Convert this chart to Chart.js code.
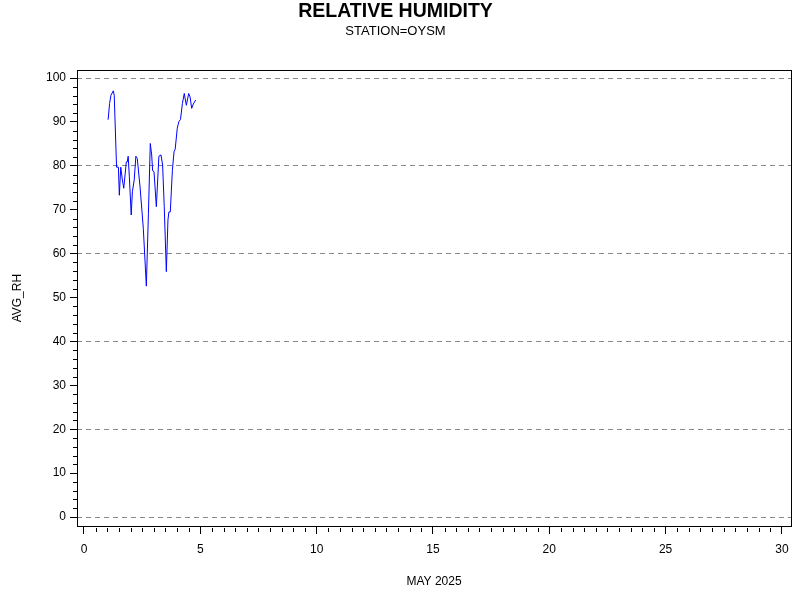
<!DOCTYPE html>
<html>
<head>
<meta charset="utf-8">
<script src="https://cdn.jsdelivr.net/npm/chart.js@4"></script>
<style>
  html, body { margin: 0; padding: 0; background: #fff; }
  #wrap { width: 800px; height: 600px; }
</style>
</head>
<body>
<div id="wrap"><canvas id="rh_chart"></canvas></div>
<script>
// day of month (fractional) and average relative humidity
const days = [1.02, 1.04, 1.10, 1.16, 1.26, 1.30, 1.40, 1.48, 1.52, 1.58, 1.65, 1.71,
  1.82, 1.86, 1.90, 1.95, 2.03, 2.08, 2.16, 2.23, 2.29, 2.41, 2.55, 2.68, 2.77, 2.85,
  2.91, 2.95, 3.01, 3.11, 3.22, 3.31, 3.38, 3.45, 3.54, 3.61, 3.65, 3.71, 3.80, 3.87,
  3.92, 4.01, 4.08, 4.15, 4.23, 4.31, 4.40, 4.50, 4.56, 4.63, 4.70, 4.80];
const avgRH = [90.6, 90.6, 94.2, 96.1, 97.1, 96.1, 79.7, 79.7, 73.3, 79.7, 76.8, 74.9,
  80.9, 80.9, 82.2, 77.5, 68.8, 74.1, 76.8, 82.2, 81.7, 75.2, 65.8, 52.6, 69.2, 85.1,
  82.5, 78.9, 78.7, 70.7, 82.2, 82.5, 80.2, 70.7, 55.9, 67.7, 69.5, 69.5, 79.0, 83.2,
  83.8, 88.6, 90.1, 90.6, 94.2, 96.5, 93.8, 96.5, 95.7, 93.1, 94.1, 95.0];

const xTicks = [0, 5, 10, 15, 20, 25, 30];
const yTicks = [0, 10, 20, 30, 40, 50, 60, 70, 80, 90, 100];

const font = "'Liberation Sans', Arial, sans-serif";

// frame + minor tick marks
const framePlugin = {
  id: 'frame',
  afterDraw(chart) {
    const { ctx, chartArea: a, scales } = chart;
    ctx.save();
    ctx.strokeStyle = '#000';
    ctx.lineWidth = 1;
    ctx.strokeRect(Math.round(a.left) + 0.5, Math.round(a.top) + 0.5,
      Math.round(a.right - a.left), Math.round(a.bottom - a.top));
    ctx.beginPath();
    for (let v = 0; v <= 100; v += 2) {
      if (v % 10 === 0) continue;
      const y = Math.round(scales.y.getPixelForValue(v)) + 0.5;
      ctx.moveTo(a.left - 4, y);
      ctx.lineTo(a.left, y);
    }
    for (let v = 0; v <= 30; v += 0.5) {
      if (v % 5 === 0) continue;
      const x = Math.round(scales.x.getPixelForValue(v)) + 0.5;
      ctx.moveTo(x, a.bottom + 2);
      ctx.lineTo(x, a.bottom + 6);
    }
    ctx.stroke();
    ctx.restore();
  }
};

new Chart(document.getElementById('rh_chart'), {
  type: 'scatter',
  data: {
    datasets: [{
      label: 'AVG_RH',
      data: days.map((d, i) => ({ x: d, y: avgRH[i] })),
      showLine: true,
      borderColor: '#0000ff',
      borderWidth: 1,
      pointRadius: 0,
      tension: 0
    }]
  },
  options: {
    responsive: true,
    maintainAspectRatio: false,
    animation: false,
    layout: { padding: { left: 0, right: 9, top: 0, bottom: 0 } },
    plugins: {
      legend: { display: false },
      tooltip: { enabled: false },
      title: {
        display: true,
        text: 'RELATIVE HUMIDITY',
        color: '#000',
        font: { family: font, size: 19.5, weight: 'bold' },
        padding: { top: 0, bottom: 0 }
      },
      subtitle: {
        display: true,
        text: 'STATION=OYSM',
        color: '#000',
        font: { family: font, size: 13 },
        padding: { top: 0, bottom: 31.2 }
      }
    },
    scales: {
      x: {
        type: 'linear',
        min: -0.3,
        max: 30.39,
        afterBuildTicks: s => { s.ticks = xTicks.map(v => ({ value: v })); },
        afterFit: s => { s.height = 74; },
        grid: { display: true, drawOnChartArea: false, tickLength: 8, tickColor: '#000', offset: false },
        border: { display: false },
        ticks: { color: '#000', font: { family: font, size: 12 }, padding: 8, maxRotation: 0 },
        title: {
          display: true, text: 'MAY 2025', color: '#000',
          font: { family: font, size: 12 }, padding: { top: 16, bottom: 11 }
        }
      },
      y: {
        type: 'linear',
        min: -2.05,
        max: 101.8,
        afterBuildTicks: s => { s.ticks = yTicks.map(v => ({ value: v })); },
        afterFit: s => { s.width = 77; },
        grid: {
          color: c => (c.tick && c.tick.value % 20 === 0) ? '#888' : 'rgba(0,0,0,0)',
          tickColor: '#000',
          tickLength: 7,
          lineWidth: 1
        },
        border: { display: false, dash: [5, 4] },
        ticks: { color: '#000', font: { family: font, size: 12 }, padding: 4 },
        title: {
          display: true, text: 'AVG_RH', color: '#000',
          font: { family: font, size: 12 }, padding: { top: 10, bottom: 12 }
        }
      }
    }
  },
  plugins: [framePlugin]
});
</script>
</body>
</html>
